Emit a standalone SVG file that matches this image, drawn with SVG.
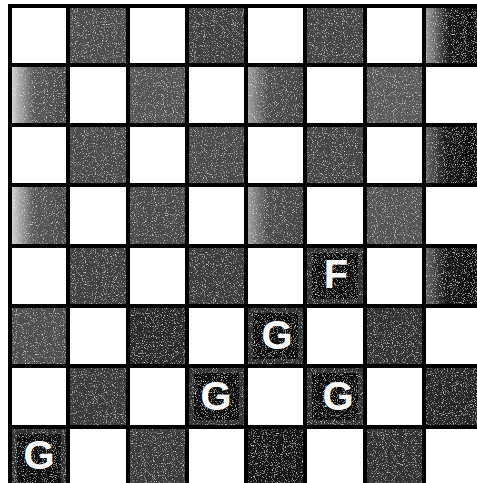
<svg xmlns="http://www.w3.org/2000/svg" width="477" height="483" viewBox="0 0 477 483">
<defs>
<style>
.l{stroke:#000;stroke-width:4;fill:none}
.pc{fill:#fff;font-family:"Liberation Sans",Arial,sans-serif;font-weight:bold;font-size:40px;text-anchor:middle}
.sq{filter:url(#grain)}
</style>
<filter id="grain" x="0" y="0" width="1" height="1">
<feTurbulence type="fractalNoise" baseFrequency="0.9" numOctaves="2" seed="4" result="n"/>
<feColorMatrix in="n" type="matrix" values="0 0 0 0 1  0 0 0 0 1  0 0 0 0 1  2.2 0 0 0 -1.25" result="w"/>
<feComposite in="w" in2="SourceGraphic" operator="atop"/>
</filter>
<linearGradient id="lf1" x1="0" y1="0" x2="1" y2="0"><stop offset="0" stop-color="#d0d0d0"/><stop offset="0.4" stop-color="#5a5a5a"/><stop offset="1" stop-color="#4a4a4a"/></linearGradient>
<linearGradient id="lf2" x1="0" y1="0" x2="1" y2="0"><stop offset="0" stop-color="#a0a0a0"/><stop offset="0.35" stop-color="#505050"/><stop offset="1" stop-color="#444"/></linearGradient>
<linearGradient id="rd" x1="0" y1="0" x2="1" y2="0"><stop offset="0" stop-color="#9a9a9a"/><stop offset="0.45" stop-color="#1a1a1a"/><stop offset="1" stop-color="#0d0d0d"/></linearGradient>
<linearGradient id="rd2" x1="0" y1="0" x2="1" y2="0"><stop offset="0" stop-color="#666"/><stop offset="0.4" stop-color="#181818"/><stop offset="1" stop-color="#0d0d0d"/></linearGradient>
</defs>
<rect width="477" height="483" fill="#fff"/>
<g id="squares" class="sq">
<rect x="70" y="8" width="56" height="55" fill="#4e4e4e"/>
<rect x="189" y="8" width="55" height="55" fill="#404040"/>
<rect x="307" y="8" width="56" height="55" fill="#454545"/>
<rect x="426" y="8" width="51" height="55" fill="url(#rd)"/>
<rect x="12" y="67" width="54" height="56" fill="url(#lf1)"/>
<rect x="130" y="67" width="55" height="56" fill="#555"/>
<rect x="248" y="67" width="55" height="56" fill="url(#lf2)"/>
<rect x="367" y="67" width="55" height="56" fill="#5a5a5a"/>
<rect x="70" y="127" width="56" height="56" fill="#4b4b4b"/>
<rect x="189" y="127" width="55" height="56" fill="#4b4b4b"/>
<rect x="307" y="127" width="56" height="56" fill="#444"/>
<rect x="426" y="127" width="51" height="56" fill="url(#rd2)"/>
<rect x="12" y="187" width="54" height="57" fill="url(#lf1)"/>
<rect x="130" y="187" width="55" height="57" fill="#4b4b4b"/>
<rect x="248" y="187" width="55" height="57" fill="url(#lf2)"/>
<rect x="367" y="187" width="55" height="57" fill="#555"/>
<rect x="70" y="248" width="56" height="56" fill="#404040"/>
<rect x="189" y="248" width="55" height="56" fill="#3e3e3e"/>
<rect x="426" y="248" width="51" height="56" fill="url(#rd2)"/>
<rect x="12" y="308" width="54" height="56" fill="#505050"/>
<rect x="130" y="308" width="55" height="56" fill="#2c2c2c"/>
<rect x="367" y="308" width="55" height="56" fill="#333"/>
<rect x="70" y="368" width="56" height="57" fill="#3a3a3a"/>
<rect x="426" y="368" width="51" height="57" fill="#262626"/>
<rect x="130" y="429" width="55" height="54" fill="#3a3a3a"/>
<rect x="248" y="429" width="55" height="54" fill="#141414"/>
<rect x="367" y="429" width="55" height="54" fill="#303030"/>
</g>
<g id="piece-f" class="sq">
<rect x="307" y="248" width="56" height="56" fill="#333"/>
<rect x="312" y="253" width="46" height="46" fill="#080808"/>
</g>
<g id="piece-g1" class="sq">
<rect x="248" y="308" width="55" height="56" fill="#333"/>
<rect x="253" y="313" width="45" height="46" fill="#080808"/>
</g>
<g id="piece-g2" class="sq">
<rect x="189" y="368" width="55" height="57" fill="#333"/>
<rect x="194" y="373" width="45" height="47" fill="#080808"/>
</g>
<g id="piece-g3" class="sq">
<rect x="307" y="368" width="56" height="57" fill="#333"/>
<rect x="312" y="373" width="46" height="47" fill="#080808"/>
</g>
<g id="piece-g4" class="sq">
<rect x="12" y="429" width="54" height="54" fill="#333"/>
<rect x="17" y="434" width="44" height="49" fill="#080808"/>
</g>
<g id="grid">
<path class="l" d="M10 4V483M68 4V483M128 4V483M187 4V483M246 4V483M305 4V483M365 4V483M424 4V483"/>
<path class="l" d="M8 6H477M8 65H477M8 125H477M8 185H477M8 246H477M8 306H477M8 366H477M8 427H477"/>
</g>
<g id="labels">
<text class="pc" x="336" y="288">F</text>
<text class="pc" x="277" y="349">G</text>
<text class="pc" x="216" y="410">G</text>
<text class="pc" x="338" y="410">G</text>
<text class="pc" x="39" y="469">G</text>
</g>
</svg>
